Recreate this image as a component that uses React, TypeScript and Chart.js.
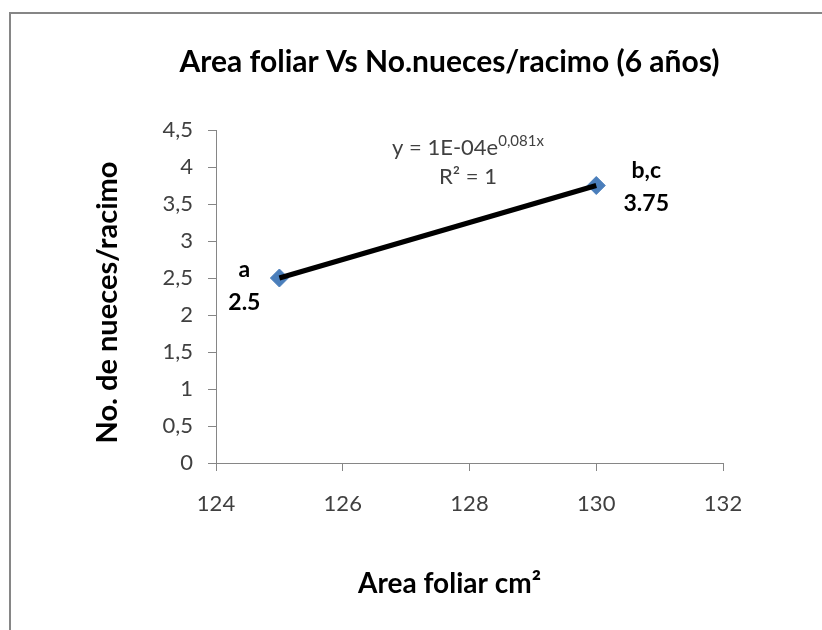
import React, { useEffect, useRef } from "react";
import { Chart, registerables } from "chart.js";

Chart.register(...registerables);

// ---- data ----
const areaFoliar = [125, 130];
const nuecesRacimo = [2.5, 3.75];
const pointLetters = ["a", "b,c"];
const pointValueLabels = ["2.5", "3.75"];
const xTickMin = 124;
const xTickMax = 132;
const xTickStep = 2;
const yTickMin = 0;
const yTickMax = 4.5;
const yTickStep = 0.5;
const chartTitle = "Area foliar Vs No.nueces/racimo (6 años)";
const xAxisTitle = "Area foliar cm²";
const yAxisTitle = "No. de nueces/racimo";
const trendEquationMain = "y = 1E-04e";
const trendEquationExp = "0,081x";
const trendR2 = "R² = 1";

const FONT = "Lato, 'Open Sans', sans-serif";
const TEXT_GRAY = "#404040";
const AXIS_GRAY = "#868686";

const annotationsPlugin = {
  id: "customText",
  afterDraw(chart: any) {
    const ctx = chart.ctx;
    const area = chart.chartArea;
    const cx = (area.left + area.right) / 2;
    const cy = (area.top + area.bottom) / 2;
    ctx.save();
    ctx.textAlign = "center";
    ctx.textBaseline = "middle";

    // chart title
    ctx.fillStyle = "#000";
    ctx.font = `bold 30px ${FONT}`;
    ctx.fillText(chartTitle, cx - 20, 62);

    // x axis title
    ctx.font = `bold 28px ${FONT}`;
    ctx.fillText(xAxisTitle, cx - 20, area.bottom + 121);

    // y axis title
    ctx.save();
    ctx.translate(108, cy + 6);
    ctx.rotate(-Math.PI / 2);
    ctx.font = `bold 29px ${FONT}`;
    ctx.fillText(yAxisTitle, 0, 0);
    ctx.restore();

    // data labels
    const meta = chart.getDatasetMeta(1);
    const offsets = [
      { dx: -35, dy1: -8, dy2: 25 },
      { dx: 50, dy1: -15, dy2: 18 },
    ];
    ctx.font = `bold 23px ${FONT}`;
    ctx.fillStyle = "#000";
    meta.data.forEach((pt: any, i: number) => {
      const o = offsets[i];
      ctx.fillText(pointLetters[i], pt.x + o.dx, pt.y + o.dy1);
      ctx.fillText(pointValueLabels[i], pt.x + o.dx, pt.y + o.dy2);
    });

    // trendline equation
    ctx.fillStyle = TEXT_GRAY;
    const eqCx = area.left + 252;
    const eqY1 = area.top + 18;
    const eqY2 = area.top + 47;
    ctx.font = `22px ${FONT}`;
    const wMain = ctx.measureText(trendEquationMain).width;
    ctx.font = `15px ${FONT}`;
    const wExp = ctx.measureText(trendEquationExp).width;
    const startX = eqCx - (wMain + wExp) / 2;
    ctx.textAlign = "left";
    ctx.font = `22px ${FONT}`;
    ctx.fillText(trendEquationMain, startX, eqY1);
    ctx.font = `15px ${FONT}`;
    ctx.fillText(trendEquationExp, startX + wMain, eqY1 - 7);
    ctx.font = `22px ${FONT}`;
    ctx.textAlign = "center";
    ctx.fillText(trendR2, eqCx, eqY2);
    ctx.restore();
  },
};

export default function App() {
  const canvasRef = useRef<HTMLCanvasElement | null>(null);

  useEffect(() => {
    const canvas = canvasRef.current;
    if (!canvas) return;
    const points = areaFoliar.map((x, i) => ({ x, y: nuecesRacimo[i] }));
    const chart = new Chart(canvas, {
      type: "scatter",
      data: {
        datasets: [
          {
            type: "line",
            label: "Tendencia",
            data: points,
            borderColor: "#000",
            borderWidth: 5,
            pointRadius: 0,
            fill: false,
            order: 0,
          } as any,
          {
            label: "Nueces",
            data: points,
            pointStyle: "rectRot",
            pointRadius: 9,
            pointHoverRadius: 9,
            backgroundColor: "#4a7ebb",
            borderColor: "#4a7ebb",
            order: 1,
          },
        ],
      },
      options: {
        responsive: false,
        animation: false,
        devicePixelRatio: 1,
        layout: { padding: { left: 0, right: 99, top: 130, bottom: 0 } },
        plugins: {
          legend: { display: false },
          title: { display: false },
          tooltip: { enabled: false },
        },
        scales: {
          x: {
            type: "linear",
            min: xTickMin,
            max: xTickMax,
            ticks: {
              stepSize: xTickStep,
              color: TEXT_GRAY,
              font: { family: FONT, size: 22 },
              padding: 20,
            },
            grid: {
              display: true,
              drawOnChartArea: false,
              drawTicks: true,
              tickLength: 8,
              color: AXIS_GRAY,
            },
            border: { display: true, color: AXIS_GRAY, width: 1 },
            title: { display: false },
            afterFit: (scale: any) => {
              scale.height = 167;
            },
          },
          y: {
            type: "linear",
            min: yTickMin,
            max: yTickMax,
            ticks: {
              stepSize: yTickStep,
              color: TEXT_GRAY,
              font: { family: FONT, size: 22 },
              padding: 15,
              callback: (v: any) => String(v).replace(".", ","),
            },
            grid: {
              display: true,
              drawOnChartArea: false,
              drawTicks: true,
              tickLength: 8,
              color: AXIS_GRAY,
            },
            border: { display: true, color: AXIS_GRAY, width: 1 },
            title: { display: false },
            afterFit: (scale: any) => {
              scale.width = 216;
            },
          },
        },
      },
      plugins: [annotationsPlugin],
    });
    return () => chart.destroy();
  }, []);

  return (
    <div
      style={{
        position: "absolute",
        left: 0,
        top: 0,
        width: 822,
        height: 630,
        overflow: "hidden",
        background: "#fff",
      }}
    >
      <div
        style={{
          position: "absolute",
          left: 9,
          top: 12,
          width: 900,
          height: 700,
          borderLeft: `2px solid ${AXIS_GRAY}`,
          borderTop: `2px solid ${AXIS_GRAY}`,
        }}
      />
      <canvas
        ref={canvasRef}
        width={822}
        height={630}
        style={{ position: "absolute", left: 0, top: 0 }}
      />
    </div>
  );
}
